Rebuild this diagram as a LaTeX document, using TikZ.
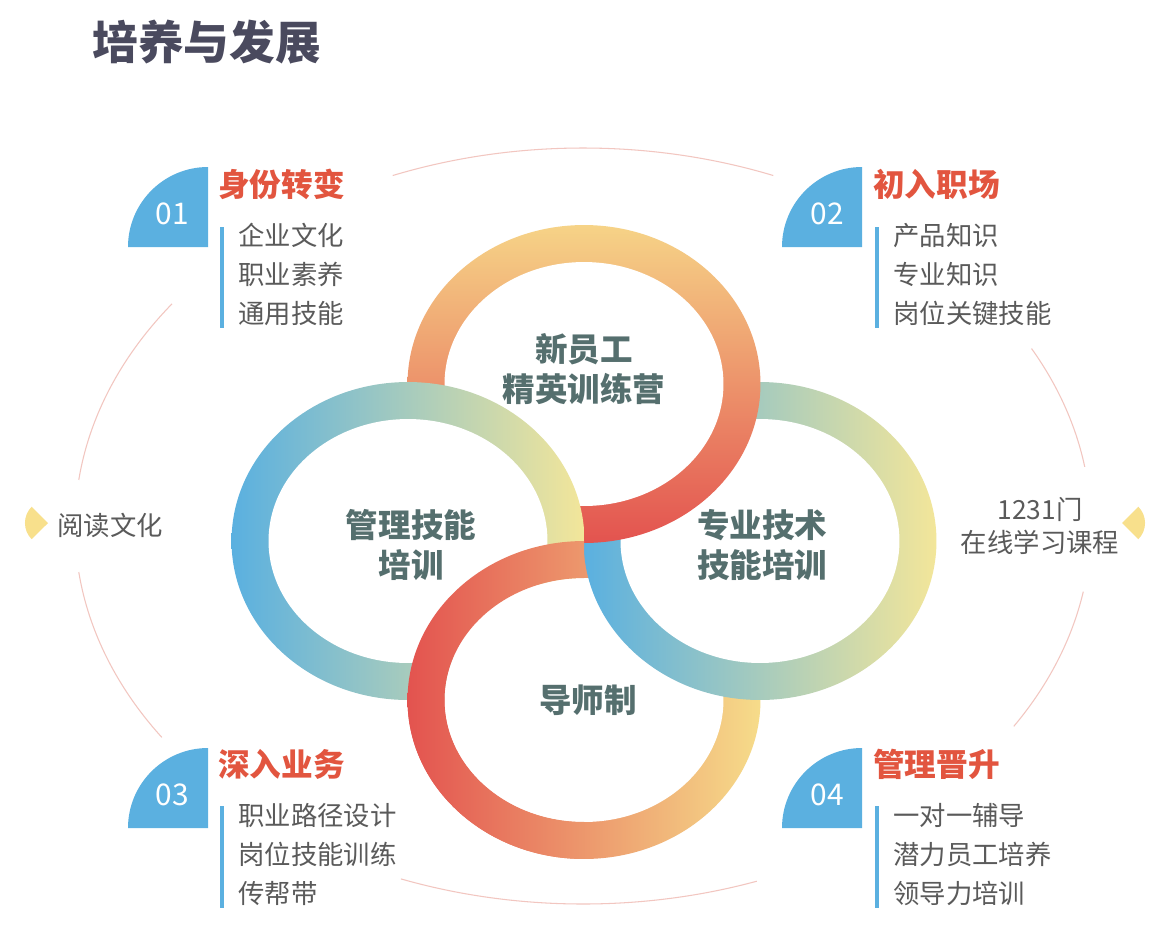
\documentclass[tikz,border=0pt]{standalone}
\usepackage{fontspec}
\setmainfont{Noto Sans CJK SC}
\usetikzlibrary{positioning}
\definecolor{titlegray}{HTML}{4A4A5E}
\definecolor{headred}{HTML}{E2553F}
\definecolor{itemgray}{HTML}{5A5A5A}
\definecolor{ringtext}{HTML}{556F6E}
\definecolor{badgeblue}{HTML}{5BB0E0}
\definecolor{guidepink}{HTML}{F2C6C0}
\definecolor{markeryellow}{HTML}{F8E08C}
\definecolor{ringblue}{HTML}{5AB0E0}
\definecolor{ringgreen}{HTML}{A0D2B2}
\definecolor{ringyellow}{HTML}{F3E69A}
\definecolor{ringred}{HTML}{E3534F}
\definecolor{ringorange}{HTML}{EE9A6C}
\definecolor{ringgold}{HTML}{F6D387}
\definecolor{ringsand}{HTML}{F6DC8A}

\begin{document}
\begin{tikzpicture}[x=0.02cm, y=-0.02cm,
  badge/.style={fill=badgeblue},
  num/.style={text=white, font=\fontsize{17}{20}\selectfont},
  head/.style={text=headred, font=\bfseries\fontsize{18}{22}\selectfont, anchor=west, inner sep=0pt},
  item/.style={text=itemgray, font=\fontsize{15}{22.2}\selectfont, anchor=north west, align=left, inner sep=0pt},
  bar/.style={draw=badgeblue, line width=2.8pt},
  ringtxt/.style={text=ringtext, font=\bfseries\fontsize{18.5}{23}\selectfont, align=center},
  guide/.style={draw=guidepink, line width=0.6pt},
  marker/.style={fill=markeryellow},
  hole/.style={fill=white},
  blueyellow/.style={left color=ringblue, middle color=ringgreen, right color=ringyellow},
  goldred/.style={top color=ringgold, middle color=ringorange, bottom color=ringred},
  redsand/.style={left color=ringred, middle color=ringorange, right color=ringsand}
]
\useasboundingbox[fill=white] (0,0) rectangle (1170,941);

% title
\node[text=titlegray, font=\bfseries\fontsize{26}{30}\selectfont, anchor=west, inner sep=0pt] (title) at (92,42) {培养与发展};

% outer guide line
\draw[guide] (583,526) ++(-112:508 and 378) arc[start angle=-112, end angle=-68, x radius=508, y radius=378];
\draw[guide] (583,526) ++(-144:508 and 378) arc[start angle=-144, end angle=-173, x radius=508, y radius=378];
\draw[guide] (583,526) ++(173:508 and 378) arc[start angle=173, end angle=146, x radius=508, y radius=378];
\draw[guide] (583,526) ++(-28:508 and 378) arc[start angle=-28, end angle=-9, x radius=508, y radius=378];
\draw[guide] (583,526) ++(10:508 and 378) arc[start angle=10, end angle=32, x radius=508, y radius=378];
\draw[guide] (583,526) ++(70:508 and 378) arc[start angle=70, end angle=111, x radius=508, y radius=378];

% rings, drawn bottom first; each hides what lies inside it
\shade[redsand] (584,700) ellipse [x radius=3.53cm, y radius=3.18cm];
\fill[hole] (584,700) ellipse [x radius=2.79cm, y radius=2.44cm];
\shade[blueyellow] (760,541) ellipse [x radius=3.53cm, y radius=3.18cm];
\fill[hole] (760,541) ellipse [x radius=2.79cm, y radius=2.44cm];
\shade[goldred] (584,384) ellipse [x radius=3.53cm, y radius=3.18cm];
\fill[hole] (584,384) ellipse [x radius=2.79cm, y radius=2.44cm];
\shade[blueyellow] (408,541) ellipse [x radius=3.53cm, y radius=3.18cm];
\fill[hole] (408,541) ellipse [x radius=2.79cm, y radius=2.44cm];
% bottom ring passes over the left ring
\begin{scope}
\clip (200,530) rectangle (584,900);
\fill[hole] (584,700) ellipse [x radius=2.79cm, y radius=2.44cm];
\shade[redsand, even odd rule] (584,700) ellipse [x radius=3.53cm, y radius=3.18cm] (584,700) ellipse [x radius=2.79cm, y radius=2.44cm];
\end{scope}

% ring labels
\node[ringtxt] (camp) at (584,369) {新员工\\精英训练营};
\node[ringtxt] (manage) at (411,545) {管理技能\\培训};
\node[ringtxt] (tech) at (762,545) {专业技术\\技能培训};
\node[ringtxt] (mentor) at (588,700) {导师制};

% badges
\fill[badge] (208,247) -- (128,247) arc[start angle=180, end angle=270, radius=80] -- cycle;
\fill[badge] (862,247) -- (782,247) arc[start angle=180, end angle=270, radius=80] -- cycle;
\fill[badge] (208,828) -- (128,828) arc[start angle=180, end angle=270, radius=80] -- cycle;
\fill[badge] (862,828) -- (782,828) arc[start angle=180, end angle=270, radius=80] -- cycle;
\node[num] (n01) at (172,214) {01};
\node[num] (n02) at (827,214) {02};
\node[num] (n03) at (172,795) {03};
\node[num] (n04) at (827,795) {04};

% stage headings
\node[head] (h01) at (218,184) {身份转变};
\node[head] (h02) at (873,184) {初入职场};
\node[head] (h03) at (218,764) {深入业务};
\node[head] (h04) at (873,764) {管理晋升};

% stage items
\draw[bar] (222,227) -- (222,328);
\draw[bar] (877,227) -- (877,328);
\draw[bar] (222,806) -- (222,908);
\draw[bar] (877,806) -- (877,908);
\node[item] (i01) at (238,223) {企业文化\\职业素养\\通用技能};
\node[item] (i02) at (893,223) {产品知识\\专业知识\\岗位关键技能};
\node[item] (i03) at (238,803) {职业路径设计\\岗位技能训练\\传帮带};
\node[item] (i04) at (893,803) {一对一辅导\\潜力员工培养\\领导力培训};

% side notes
\fill[marker] (48,523) -- (31.7,506.7) arc[start angle=225, end angle=135, radius=23] -- cycle;
\fill[marker] (1122,523) -- (1138.3,506.7) arc[start angle=-45, end angle=45, radius=23] -- cycle;
\node[text=itemgray, font=\fontsize{15}{19}\selectfont, anchor=west, inner sep=0pt] (reading) at (57,525) {阅读文化};
\node[text=itemgray, font=\fontsize{15}{19}\selectfont, align=center, inner sep=0pt] (courses) at (1040,526) {1231门\\在线学习课程};
\end{tikzpicture}
\end{document}
